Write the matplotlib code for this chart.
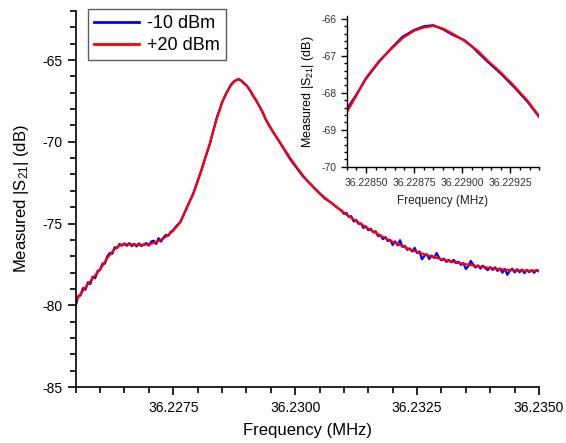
import matplotlib
matplotlib.use("Agg")
import matplotlib.pyplot as plt
from matplotlib.ticker import FixedLocator, MultipleLocator

plt.rcParams['font.family'] = ['Liberation Sans', 'DejaVu Sans']
plt.rcParams['mathtext.fontset'] = 'custom'
plt.rcParams['mathtext.rm'] = 'Liberation Sans'
plt.rcParams['mathtext.it'] = 'Liberation Sans:italic'

# ---- data: +20 dBm (red, smooth) ----
red_freq = [36.22550, 36.22560, 36.22573, 36.22588, 36.22603, 36.22615, 36.22627,
            36.22636, 36.22644, 36.22660, 36.22675, 36.22690, 36.22702, 36.22716,
            36.22729, 36.22740, 36.22750, 36.22757, 36.22764, 36.22771, 36.22778,
            36.22784, 36.22791, 36.22799, 36.22808, 36.22816, 36.22825, 36.22832,
            36.22840, 36.22845, 36.22850, 36.22857, 36.22863, 36.22869,
            36.22875, 36.22880, 36.22885, 36.22890, 36.22895, 36.22901, 36.22908,
            36.22913, 36.22920, 36.22927, 36.22934, 36.22940, 36.22948, 36.22956,
            36.22965, 36.22978, 36.22990, 36.23003, 36.23015, 36.23026, 36.23037,
            36.23048, 36.23060, 36.23075, 36.23092, 36.23110,
            36.23133, 36.23155, 36.23174, 36.23195, 36.23215, 36.23235, 36.23256,
            36.23276, 36.23296, 36.23317, 36.23337, 36.23358, 36.23378, 36.23399,
            36.23419, 36.23440, 36.23460, 36.23480, 36.23500]
red_db = [-79.75, -79.30, -78.80, -78.25, -77.68, -77.10, -76.65,
          -76.42, -76.30, -76.27, -76.30, -76.30, -76.27, -76.12,
          -75.93, -75.70, -75.43, -75.20, -74.92, -74.50, -74.05,
          -73.63, -73.15, -72.52, -71.75, -70.95, -70.10, -69.33,
          -68.53, -68.08, -67.60, -67.13, -66.82, -66.52,
          -66.32, -66.23, -66.19, -66.26, -66.40, -66.59, -66.86,
          -67.12, -67.45, -67.82, -68.22, -68.64, -69.05, -69.45,
          -69.85, -70.46, -71.00, -71.55, -72.02, -72.42, -72.78,
          -73.10, -73.40, -73.76, -74.15, -74.55,
          -75.00, -75.40, -75.73, -76.05, -76.32, -76.58, -76.80,
          -76.98, -77.15, -77.30, -77.42, -77.53, -77.63, -77.72,
          -77.79, -77.85, -77.88, -77.89, -77.88]

# ---- data: -10 dBm (blue, noisy) ----
blue_freq = [36.22550, 36.22555, 36.22560, 36.22565, 36.22570, 36.22575, 36.22580,
             36.22585, 36.22590, 36.22595, 36.22600, 36.22605, 36.22610, 36.22615,
             36.22620, 36.22625, 36.22630, 36.22635, 36.22640, 36.22645, 36.22650,
             36.22655, 36.22660, 36.22665, 36.22670, 36.22675, 36.22680, 36.22685,
             36.22690, 36.22695, 36.22700, 36.22705, 36.22710, 36.22715, 36.22720,
             36.22725, 36.22730, 36.22735, 36.22740, 36.22745, 36.22750, 36.22755,
             36.22760, 36.22765,
             36.22778, 36.22791, 36.22808, 36.22825, 36.22840, 36.22845, 36.22850,
             36.22857, 36.22863, 36.22869, 36.22875, 36.22880, 36.22885, 36.22890,
             36.22895, 36.22901, 36.22905, 36.22908, 36.22913, 36.22920, 36.22927,
             36.22934, 36.22940, 36.22948, 36.22965, 36.22990, 36.23015, 36.23037,
             36.23060, 36.23075, 36.23090,
             36.23095, 36.23100, 36.23105, 36.23110, 36.23115, 36.23120, 36.23125,
             36.23130, 36.23135, 36.23140, 36.23145, 36.23150, 36.23155, 36.23160,
             36.23165, 36.23170, 36.23175, 36.23180, 36.23185, 36.23190, 36.23195,
             36.23200, 36.23205, 36.23210, 36.23215, 36.23220, 36.23225, 36.23230,
             36.23235, 36.23240, 36.23245, 36.23250, 36.23255, 36.23260, 36.23265,
             36.23270, 36.23275, 36.23280, 36.23285, 36.23290, 36.23295, 36.23300,
             36.23305, 36.23310, 36.23315, 36.23320, 36.23325, 36.23330, 36.23335,
             36.23340, 36.23345, 36.23350, 36.23355, 36.23360, 36.23365, 36.23370,
             36.23375, 36.23380, 36.23385, 36.23390, 36.23395, 36.23400, 36.23405,
             36.23410, 36.23415, 36.23420, 36.23425, 36.23430, 36.23435, 36.23440,
             36.23445, 36.23450, 36.23455, 36.23460, 36.23465, 36.23470, 36.23475,
             36.23480, 36.23485, 36.23490, 36.23495, 36.23500]
blue_db = [-80.05, -79.45, -79.40, -78.95, -79.05, -78.60, -78.70,
           -78.25, -78.35, -77.90, -77.85, -77.45, -77.45, -77.00,
           -76.80, -76.85, -76.45, -76.50, -76.25, -76.35, -76.22,
           -76.36, -76.20, -76.38, -76.25, -76.40, -76.22, -76.38,
           -76.28, -76.20, -76.35, -76.10, -76.05, -76.25, -75.90,
           -76.10, -75.85, -75.70, -75.75, -75.50, -75.40, -75.20,
           -75.05, -74.90,
           -74.00, -73.20, -71.70, -70.15, -68.45, -68.05, -67.62,
           -67.15, -66.80, -66.48, -66.30, -66.20, -66.17, -66.28,
           -66.43, -66.57, -66.74, -66.90, -67.15, -67.48, -67.85,
           -68.25, -68.66, -69.08, -69.88, -71.08, -72.08, -72.75,
           -73.45, -73.75, -74.12,
           -74.20, -74.41, -74.35, -74.60, -74.55, -74.87, -74.78,
           -75.02, -74.99, -75.28, -75.17, -75.41, -75.32, -75.54,
           -75.48, -75.77, -75.72, -75.96, -75.83, -76.08, -76.00,
           -76.32, -76.09, -76.33, -76.02, -76.43, -76.37, -76.61,
           -76.53, -76.71, -76.49, -76.80, -76.71, -77.19, -76.98,
           -76.88, -77.17, -76.96, -77.11, -76.80, -77.09, -77.25,
           -77.15, -77.35, -77.23, -77.37, -77.22, -77.42, -77.34,
           -77.53, -77.42, -77.78, -77.61, -77.29, -77.51, -77.69,
           -77.56, -77.76, -77.58, -77.73, -77.85, -77.67, -77.84,
           -77.68, -77.90, -77.75, -78.01, -77.78, -78.14, -77.90,
           -77.76, -77.99, -77.80, -77.98, -77.82, -78.04, -77.84,
           -77.97, -77.85, -78.01, -77.84, -77.93]

series_labels = ['-10 dBm', '+20 dBm']

main_xticks = [36.2275, 36.2300, 36.2325, 36.2350]
main_xticklabels = ['36.2275', '36.2300', '36.2325', '36.2350']
main_yticks = [-85, -80, -75, -70, -65]
main_yticklabels = ['-85', '-80', '-75', '-70', '-65']

inset_xticks = [36.22850, 36.22875, 36.22900, 36.22925]
inset_xticklabels = ['36.22850', '36.22875', '36.22900', '36.22925']
inset_yticks = [-70, -69, -68, -67, -66]
inset_yticklabels = ['-70', '-69', '-68', '-67', '-66']

BLUE = '#0000ff'
RED = '#ff0000'

fig = plt.figure(figsize=(5.66, 4.43), dpi=100)

def style_axes(ax, major_len, minor_len, width=1.2):
    for s in ['top', 'right']:
        ax.spines[s].set_visible(False)
    for s in ['left', 'bottom']:
        ax.spines[s].set_linewidth(width)
    ax.tick_params(which='major', direction='out', length=major_len, width=width)
    ax.tick_params(which='minor', direction='out', length=minor_len, width=width)

# ---- main axes ----
ax = fig.add_axes([0.1337, 0.1264, 0.8186, 0.8488])
ax.plot(blue_freq, blue_db, color=BLUE, lw=1.6, label=series_labels[0])
ax.plot(red_freq, red_db, color=RED, lw=1.6, label=series_labels[1])
ax.set_xlim(36.2255, 36.2350)
ax.set_ylim(-85, -62)
ax.xaxis.set_major_locator(FixedLocator(main_xticks))
ax.set_xticklabels(main_xticklabels, fontsize=10)
ax.xaxis.set_minor_locator(MultipleLocator(0.0005))
ax.yaxis.set_major_locator(FixedLocator(main_yticks))
ax.set_yticklabels(main_yticklabels, fontsize=10)
ax.yaxis.set_minor_locator(MultipleLocator(1))
style_axes(ax, 6, 4)
ax.tick_params(axis='x', pad=4)
ax.set_xlabel('Frequency (MHz)', fontsize=12, labelpad=6)
ax.set_ylabel('Measured |S$_{21}$| (dB)', fontsize=12, labelpad=8)

leg = ax.legend(loc='upper left', bbox_to_anchor=(0.0265, 1.005), fontsize=13,
                frameon=True, fancybox=False, handlelength=2.5, handletextpad=0.4,
                borderpad=0.35, labelspacing=0.25, borderaxespad=0.0)
leg.get_frame().set_edgecolor('#333333')
leg.get_frame().set_linewidth(1.0)
for line in leg.get_lines():
    line.set_linewidth(2.0)

# ---- inset axes ----
ins = fig.add_axes([0.6125, 0.6237, 0.3403, 0.3402])
ins.plot(blue_freq, blue_db, color=BLUE, lw=1.6)
ins.plot(red_freq, red_db, color=RED, lw=1.6)
ins.set_xlim(36.2284, 36.2294)
ins.set_ylim(-70, -65.92)
ins.xaxis.set_major_locator(FixedLocator(inset_xticks))
ins.set_xticklabels(inset_xticklabels, fontsize=7.5, color='#333333')
ins.xaxis.set_minor_locator(MultipleLocator(0.00005))
ins.yaxis.set_major_locator(FixedLocator(inset_yticks))
ins.set_yticklabels(inset_yticklabels, fontsize=7.5, color='#333333')
ins.yaxis.set_minor_locator(MultipleLocator(0.2))
style_axes(ins, 4, 2.5, width=1.0)
ins.tick_params(axis='x', pad=4)
ins.set_xlabel('Frequency (MHz)', fontsize=8.5, color='#222222', labelpad=5)
ins.set_ylabel('Measured |S$_{21}$| (dB)', fontsize=9, labelpad=4)

fig.savefig('out.png', dpi=100)
